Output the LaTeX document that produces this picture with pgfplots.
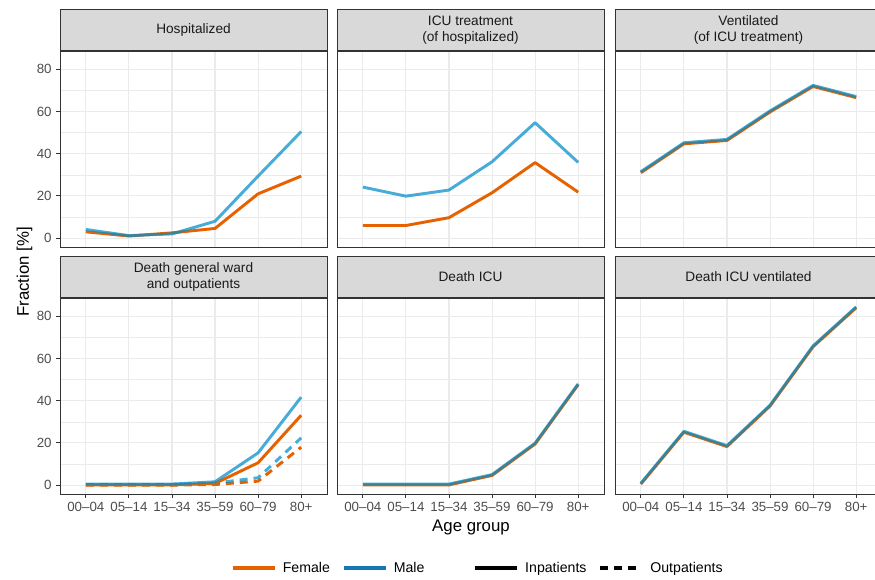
\documentclass[border=0pt]{standalone}
\usepackage{fontspec}
\setmainfont{Liberation Sans}
\usepackage{pgfplots}
\usepackage{pgfplotstable}
\pgfplotsset{compat=1.18}
\definecolor{forange}{RGB}{230,97,0}
\definecolor{mblue}{RGB}{0,140,200}
\definecolor{mbluelegend}{RGB}{20,120,178}
\definecolor{gridc}{RGB}{235,235,235}
\definecolor{framec}{RGB}{51,51,51}
\definecolor{stripc}{RGB}{217,217,217}
\definecolor{tickc}{RGB}{77,77,77}
\definecolor{stript}{RGB}{26,26,26}

\pgfplotstableread{
x F M
1 3.0 4.1
2 1.0 1.2
3 2.5 2.0
4 4.6 8.0
5 21.0 29.4
6 29.4 50.5
}\hosp
\pgfplotstableread{
x F M
1 6.0 24.2
2 6.0 19.9
3 9.7 22.8
4 21.5 36.2
5 35.8 54.7
6 21.8 35.9
}\icu
\pgfplotstableread{
x F M
1 31.0 31.5
2 44.7 45.2
3 46.3 46.8
4 59.8 60.3
5 71.9 72.4
6 66.6 67.1
}\vent
\pgfplotstableread{
x Fi Mi Fo Mo
1 0.1 0.5 0.0 0.3
2 0.1 0.5 0.0 0.3
3 0.1 0.5 0.0 0.3
4 0.8 1.6 0.3 1.0
5 10.6 15.3 1.9 3.5
6 33.1 41.7 18.0 22.4
}\dgw
\pgfplotstableread{
x F M
1 0.1 0.5
2 0.1 0.5
3 0.1 0.5
4 4.6 5.0
5 19.5 19.9
6 47.6 48.0
}\dicu
\pgfplotstableread{
x F M
1 0.5 0.9
2 25.1 25.5
3 18.3 18.7
4 37.5 37.9
5 65.6 66.0
6 84.1 84.5
}\dicuv

\pgfplotsset{
 panel/.style={
  scale only axis, width=200.25pt, height=147pt,
  xmin=0.4, xmax=6.6, ymin=-4.2, ymax=88.7,
  xtick={1,...,6}, ytick={0,20,40,60,80}, minor ytick={10,30,50,70},
  xtick pos=bottom, ytick pos=left,
  grid=both,
  major grid style={gridc, line width=0.8pt},
  minor grid style={gridc, line width=0.45pt},
  axis line style={framec, line width=0.7pt},
  tick align=outside, major tick length=2.75pt, minor tick length=0pt,
  xticklabels={}, yticklabels={},
  xtick style={draw=none}, ytick style={draw=none},
  tick label style={font=\fontsize{10}{11}\selectfont, text=tickc},
  /pgf/number format/assume math mode=true,
  no markers,
 },
 leftcol/.style={yticklabels={0,20,40,60,80}, ytick style={draw=framec, line width=0.7pt}},
 bottomrow/.style={xticklabels={00--04,05--14,15--34,35--59,60--79,80+}, xtick style={draw=framec, line width=0.7pt}},
 fline/.style={forange, line width=2.2pt, line join=round},
 mline/.style={mblue, line width=2.2pt, line join=round, opacity=0.72},
 dashes/.style={dash pattern=on 6pt off 4.5pt},
 mylegend/.style={hide axis, scale only axis, width=10pt, height=10pt, anchor=center,
   xmin=0, xmax=1, ymin=0, ymax=1,
   legend style={at={(0.5,0.5)}, anchor=center, draw=none, fill=none, legend columns=2,
     font=\fontsize{10.6}{12}\selectfont,
     /tikz/every odd column/.append style={column sep=3pt},
     /tikz/every even column/.append style={column sep=7pt}},
   legend image code/.code={\draw[##1] (0pt,0pt) -- (31.5pt,0pt);}},
}
\tikzset{
 strip/.style={draw=framec, line width=0.7pt, fill=stripc, minimum width=200.25pt, minimum height=30.75pt, anchor=south, inner sep=0pt, align=center, font=\fontsize{10.25}{11.8}\selectfont, text=stript},
}

\begin{document}
\begin{tikzpicture}
\useasboundingbox (0pt,0pt) rectangle (656.25pt,-434.25pt);

\begin{axis}[panel, leftcol, name=p1, at={(45pt,-38.25pt)}, anchor=north west]
\addplot[fline] table[x=x,y=F]{\hosp};
\addplot[mline] table[x=x,y=M]{\hosp};
\end{axis}
\begin{axis}[panel, name=p2, at={(252.75pt,-38.25pt)}, anchor=north west]
\addplot[fline] table[x=x,y=F]{\icu};
\addplot[mline] table[x=x,y=M]{\icu};
\end{axis}
\begin{axis}[panel, name=p3, at={(461.25pt,-38.25pt)}, anchor=north west]
\addplot[fline] table[x=x,y=F]{\vent};
\addplot[mline] table[x=x,y=M]{\vent};
\end{axis}
\begin{axis}[panel, leftcol, bottomrow, name=p4, at={(45pt,-223.5pt)}, anchor=north west]
\addplot[fline, dashes] table[x=x,y=Fo]{\dgw};
\addplot[mline, dashes] table[x=x,y=Mo]{\dgw};
\addplot[fline] table[x=x,y=Fi]{\dgw};
\addplot[mline] table[x=x,y=Mi]{\dgw};
\end{axis}
\begin{axis}[panel, bottomrow, name=p5, at={(252.75pt,-223.5pt)}, anchor=north west]
\addplot[fline] table[x=x,y=F]{\dicu};
\addplot[mline] table[x=x,y=M]{\dicu};
\end{axis}
\begin{axis}[panel, bottomrow, name=p6, at={(461.25pt,-223.5pt)}, anchor=north west]
\addplot[fline] table[x=x,y=F]{\dicuv};
\addplot[mline] table[x=x,y=M]{\dicuv};
\end{axis}

\node[strip] at (p1.north) {Hospitalized};
\node[strip] at (p2.north) {ICU treatment\\(of hospitalized)};
\node[strip] at (p3.north) {Ventilated\\(of ICU treatment)};
\node[strip] at (p4.north) {Death general ward\\and outpatients};
\node[strip] at (p5.north) {Death ICU};
\node[strip] at (p6.north) {Death ICU ventilated};

\node[rotate=90, font=\fontsize{12.6}{14}\selectfont] at (18.4pt,-204pt) {Fraction [\%]};
\node[anchor=base, font=\fontsize{12.6}{14}\selectfont] at (353.25pt,-398.25pt) {Age group};

\begin{axis}[mylegend, at={(246.8pt,-426pt)}]
\addlegendimage{forange, line width=2.4pt}
\addlegendentry{Female}
\addlegendimage{mbluelegend, line width=2.4pt}
\addlegendentry{Male}
\end{axis}
\begin{axis}[mylegend, at={(449.5pt,-426pt)}]
\addlegendimage{black, line width=2.4pt}
\addlegendentry{Inpatients}
\addlegendimage{black, line width=2.4pt, dash pattern=on 6pt off 4.5pt}
\addlegendentry{Outpatients}
\end{axis}
\end{tikzpicture}
\end{document}
